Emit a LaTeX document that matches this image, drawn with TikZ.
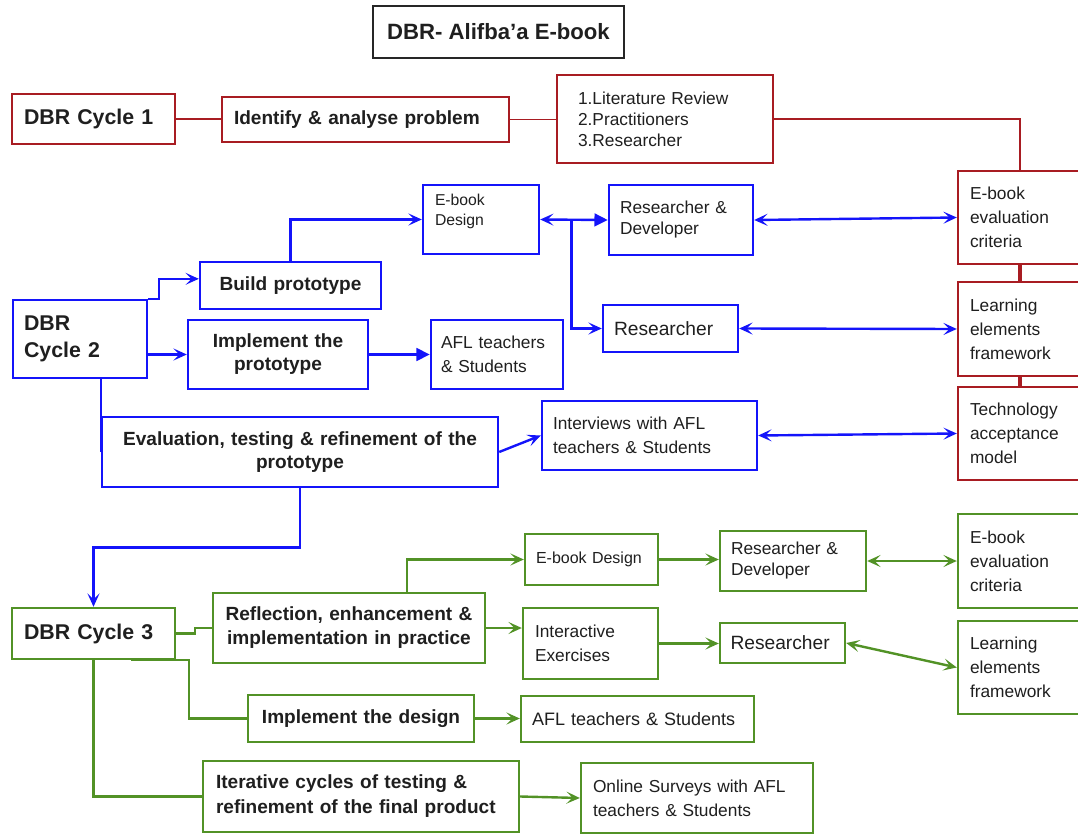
\documentclass[tikz,border=0pt]{standalone}
\usepackage{fontspec}
\setmainfont{Liberation Sans}
\usetikzlibrary{arrows.meta,calc}
\definecolor{dred}{RGB}{168,28,34}
\definecolor{dblue}{RGB}{20,20,250}
\definecolor{dgreen}{RGB}{82,146,38}
\begin{document}
\begin{tikzpicture}[x=0.75pt,y=-0.75pt,
  box/.style={draw, line width=1.8pt, rectangle, inner sep=0pt, fill=white, text=black!88},
  rbox/.style={box, draw=dred},
  bbox/.style={box, draw=dblue},
  gbox/.style={box, draw=dgreen},
  cyc/.style={font=\fontsize{16}{20}\selectfont\bfseries, align=left},
  act/.style={font=\fontsize{14.3}{17.3}\selectfont\bfseries, align=center},
  actl/.style={font=\fontsize{14.3}{18.8}\selectfont\bfseries, align=left},
  txt/.style={font=\fontsize{13}{18}\selectfont, align=left},
  txtn/.style={font=\fontsize{13}{15.75}\selectfont, align=left},
  big/.style={font=\fontsize{14.4}{17}\selectfont, align=left},
  conn/.style={line width=1.8pt},
  rl/.style={conn, line width=1.4pt, draw=dred},
  bl/.style={conn, draw=dblue},
  gl/.style={conn, draw=dgreen},
  arr/.style={-{Stealth[length=10pt,width=9pt,inset=4.5pt]}},
  biarr/.style={{Stealth[length=10pt,width=9pt,inset=4.5pt]}-{Stealth[length=10pt,width=9pt,inset=4.5pt]}},
  tri/.style={-{Triangle[length=10pt,width=9.5pt]}},
  wh/.style 2 args={minimum width=#1, minimum height=#2}]
\useasboundingbox (0,0) rectangle (1078,834);
\clip (0,0) rectangle (1078,834);

% title
\node[box, draw=black!85, wh={188.25pt}{39pt}, font=\fontsize{16.6}{20}\selectfont\bfseries] (title) at (498.5,32) {DBR- Alifba’a E-book};

% cycle 1 (red)
\node[rbox, cyc, wh={122.25pt}{37.5pt}, text width=104.25pt] (c1) at (93.5,119) {DBR Cycle 1};
\node[rbox, actl, wh={215.25pt}{33.75pt}, text width=197.25pt] (ident) at (365.5,119.5) {Identify \& analyse problem};
\node[rbox, txtn, wh={162pt}{66pt}, text width=130.5pt] (lit) at (665,119) {1.Literature Review\\2.Practitioners\\3.Researcher};
\node[rbox, txt, wh={99pt}{69.75pt}, text width=81pt] (evalR) at (1024,217.5) {E-book\\evaluation\\criteria};
\node[rbox, txt, wh={99pt}{70.5pt}, text width=81pt] (leR) at (1024,329) {Learning\\elements\\framework};
\node[rbox, txt, wh={99pt}{69.75pt}, text width=81pt] (techR) at (1024,433.5) {Technology\\acceptance\\model};

% cycle 2 (blue)
\node[bbox, font=\fontsize{16}{20}\selectfont\bfseries, align=left, wh={100.5pt}{58.5pt}, text width=84pt] (c2) at (80,339) {DBR\\Cycle 2};
\node[bbox, act, wh={135.75pt}{35.25pt}, text width=120pt] (build) at (290.5,285.5) {Build prototype};
\node[bbox, wh={87pt}{51.75pt}, font=\fontsize{11.8}{15}\selectfont] (edesb) at (481,219.5) {\parbox[c][38pt][t]{69pt}{E-book\\Design}};
\node[bbox, txtn, wh={108pt}{52.5pt}, text width=91.5pt] (rdb) at (681,220) {Researcher \&\\Developer};
\node[bbox, act, wh={135pt}{51.75pt}, text width=120pt] (implp) at (278,354.5) {Implement the\\prototype};
\node[bbox, txt, wh={99pt}{51.75pt}, text width=84pt] (aflb) at (497,354.5) {AFL teachers\\\& Students};
\node[bbox, big, wh={101.25pt}{35.25pt}, text width=84.75pt] (resb) at (670.5,328.5) {Researcher};
\node[bbox, act, wh={297pt}{52.5pt}, text width=280pt] (eval) at (300,452) {Evaluation, testing \& refinement of the\\prototype};
\node[bbox, txt, wh={161.25pt}{51.75pt}, text width=144.75pt] (intv) at (649.5,435.5) {Interviews with AFL\\teachers \& Students};

% cycle 3 (green)
\node[gbox, cyc, wh={122.25pt}{38.25pt}, text width=104.25pt] (c3) at (93.5,633.5) {DBR Cycle 3};
\node[gbox, act, font=\fontsize{14.3}{18}\selectfont\bfseries, wh={204pt}{52.5pt}, text width=195pt] (refl) at (349,628) {Reflection, enhancement \&\\implementation in practice};
\node[gbox, font=\fontsize{12}{15}\selectfont, align=left, wh={99.75pt}{38.25pt}, text width=83.25pt] (edesg) at (591.5,559.5) {E-book Design};
\node[gbox, txtn, wh={109.5pt}{45pt}, text width=93pt] (rdg) at (793,561) {Researcher \&\\Developer};
\node[gbox, txt, wh={99pt}{70.5pt}, text width=81pt] (evalg) at (1024,561) {E-book\\evaluation\\criteria};
\node[gbox, txt, wh={101.25pt}{53.25pt}, text width=83.25pt] (interg) at (590.5,643.5) {Interactive\\Exercises};
\node[gbox, big, wh={93.75pt}{30pt}, text width=78pt] (resg) at (782.5,643) {Researcher};
\node[gbox, txt, wh={99pt}{69.75pt}, text width=81pt] (leg) at (1024,667.5) {Learning\\elements\\framework};
\node[gbox, act, wh={169.5pt}{35.25pt}, text width=160pt] (impld) at (361,718.5) {Implement the design};
\node[gbox, font=\fontsize{13.5}{18}\selectfont, align=left, wh={174.75pt}{34.5pt}, text width=158.25pt] (aflg) at (637.5,719) {AFL teachers \& Students};
\node[gbox, actl, wh={237pt}{53.25pt}, text width=217.5pt] (iter) at (361,796.5) {Iterative cycles of testing \&\\refinement of the final product};
\node[gbox, txt, wh={174pt}{52.5pt}, text width=156pt] (online) at (697,798) {Online Surveys with AFL\\teachers \& Students};

% cycle 1 connectors
\draw[rl] (c1.east) -- (c1.east -| ident.west);
\draw[rl] (ident.east) -- (ident.east -| lit.west);
\draw[rl] (lit.east) -| ([xshift=-3pt]evalR.north);
\draw[rl, line width=3pt] ([xshift=-3pt]evalR.south) -- ([xshift=-3pt]leR.north);
\draw[rl, line width=3pt] ([xshift=-3pt]leR.south) -- ([xshift=-3pt]techR.north);

% cycle 2 connectors
\draw[bl, arr] (c2.north east) -- ++(11,0) |- ([yshift=5pt]build.west);
\draw[bl, arr] (c2.east |- implp.west) -- (implp.west);
\draw[bl, tri] (implp.east) -- (implp.east -| aflb.west);
\draw[bl, arr] (build.north) |- (edesb.west);
\coordinate (br) at ($(edesb.east)!0.46!(rdb.west)$);
\draw[bl, {Stealth[length=10pt,width=9pt,inset=4.5pt]}-{Triangle[length=10pt,width=9.5pt]}] (edesb.east) -- (rdb.west);
\draw[bl, arr] (br) |- (resb.west);
\draw[bl, biarr] (rdb.east) -- (evalR.west);
\draw[bl, biarr] (resb.east) -- (leR.west);
\draw[bl] (c2.south -| eval.west) -- (eval.west);
\draw[bl, arr] (eval.east) -- (intv.west);
\draw[bl, biarr] (intv.east) -- (techR.west);
\draw[bl, arr] (eval.south) |- ($(eval.south)!.5!(c3.north)$) -| (c3.north);

% cycle 3 connectors
\draw[gl] (c3.east) -- ++(19,0) |- (refl.west);
\draw[gl, arr] ([xshift=43.5pt]refl.north) |- (edesg.west);
\draw[gl, arr] (refl.east) -- (refl.east -| interg.west);
\draw[gl, arr] (edesg.east) -- (edesg.east -| rdg.west);
\draw[gl, biarr] (rdg.east) -- (rdg.east -| evalg.west);
\draw[gl, arr] (interg.east) -- (interg.east -| resg.west);
\draw[gl, biarr] (resg.east) -- (leg.west);
\draw[gl] ([xshift=28pt]c3.south) -- (c3.south east) -- ++(13,0) |- (impld.west);
\draw[gl, arr] (impld.east) -- (impld.east -| aflg.west);
\draw[gl] (c3.south) |- (iter.west);
\draw[gl, arr] (iter.east) -- (online.west);
\end{tikzpicture}
\end{document}
